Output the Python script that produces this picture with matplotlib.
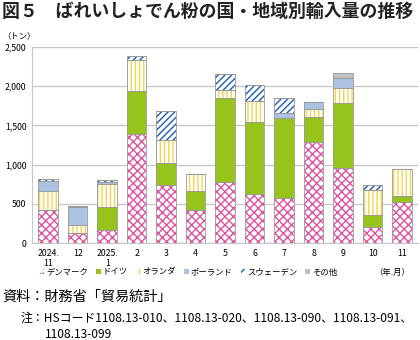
import numpy as np
import matplotlib.pyplot as plt
from matplotlib.patches import Patch

plt.rcParams['font.family'] = ['Noto Sans CJK JP', 'DejaVu Sans']
plt.rcParams['hatch.linewidth'] = 1.0

months = ['2024.\n11', '12', '2025.\n1', '2', '3', '4', '5', '6', '7', '8', '9', '10', '11']
denmark = [420, 130, 165, 1390, 735, 420, 775, 630, 575, 1285, 960, 205, 525]
germany = [0, 0, 295, 548, 288, 244, 1070, 907, 1017, 325, 830, 148, 72]
netherlands = [240, 100, 296, 400, 295, 220, 105, 274, 0, 97, 190, 326, 350]
poland = [130, 225, 20, 0, 0, 0, 0, 0, 64, 93, 126, 0, 0]
sweden = [28, 15, 30, 42, 367, 0, 211, 199, 197, 0, 0, 67, 0]
other = [0, 0, 0, 0, 0, 0, 0, 0, 0, 0, 56, 0, 0]

series = [
    ('デンマーク', denmark, 'white', '#e0529f', 'xxxx'),
    ('ドイツ', germany, '#97c31d', '#97c31d', None),
    ('オランダ', netherlands, 'white', '#f2d54e', '||||'),
    ('ポーランド', poland, '#adc2e2', '#adc2e2', None),
    ('スウェーデン', sweden, 'white', '#1d5db0', '/////'),
    ('その他', other, '#c0c0c0', '#c0c0c0', None),
]

fig = plt.figure(figsize=(4.2, 3.4), dpi=100)
ax = fig.add_axes([0.076, 0.285, 0.92, 0.577])

x = np.arange(len(months))
w = 0.66
bottom = np.zeros(len(months))
for name, vals, fc, hc, hatch in series:
    vals = np.array(vals, dtype=float)
    ax.bar(x, vals, w, bottom=bottom, color=fc, edgecolor=hc, hatch=hatch,
           linewidth=0, zorder=2)
    ax.bar(x, vals, w, bottom=bottom, fill=False, edgecolor='#9a9a9a',
           linewidth=0.6, zorder=3)
    bottom += vals

ax.set_ylim(0, 2500)
ax.set_xlim(-0.55, len(months) - 0.45)
ax.set_yticks(np.arange(0, 2501, 500))
ax.set_yticklabels(['0', '500', '1,000', '1,500', '2,000', '2,500'])
ax.set_xticks(x)
ax.set_xticklabels(months)
ax.tick_params(length=0, labelsize=6.3, pad=4)
ax.grid(axis='y', color='#c8c8c8', linewidth=1, zorder=0)
for s in ['top', 'right']:
    ax.spines[s].set_visible(False)
ax.spines['left'].set_color('#c8c8c8')
ax.spines['bottom'].set_color('#c8c8c8')

handles = [Patch(facecolor=fc, edgecolor=hc, hatch=h, linewidth=0) for _, _, fc, hc, h in series]
fig.legend(handles, [s[0] for s in series], loc='center left',
           bbox_to_anchor=(0.095, 0.2), ncol=6, frameon=False, fontsize=6,
           handlelength=0.55, handleheight=0.55, handletextpad=0.2,
           columnspacing=1.0, borderpad=0, borderaxespad=0)
fig.text(0.89, 0.2, '（年.月）', fontsize=6, va='center')
fig.text(0.005, 0.895, '（トン）', fontsize=6, va='center')

fig.text(0.005, 0.965, '図５　ばれいしょでん粉の国・地域別輸入量の推移', fontsize=12.9,
         fontweight='bold', va='center', color='#222222')
fig.text(0.005, 0.127, '資料：財務省「貿易統計」', fontsize=10.2, va='center')
fig.text(0.05, 0.065, '注：HSコード1108.13-010、1108.13-020、1108.13-090、1108.13-091、',
         fontsize=8.6, va='center')
fig.text(0.107, 0.017, '1108.13-099', fontsize=8.6, va='center')

fig.savefig('out.png', dpi=100)
